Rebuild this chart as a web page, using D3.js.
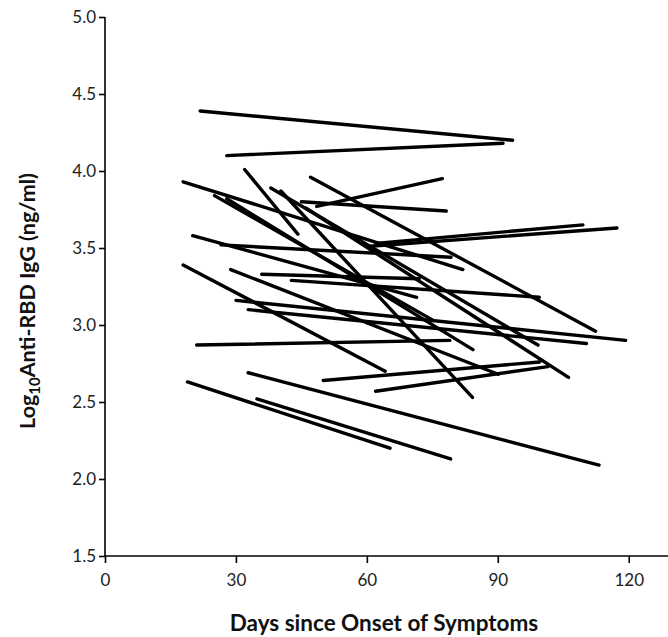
<!DOCTYPE html>
<html><head><meta charset="utf-8">
<script src="https://cdn.jsdelivr.net/npm/d3@7"></script>
<style>body{margin:0;background:#fff}svg{display:block}</style>
</head><body>
<script>
// Each segment: patient start (day, log10 value) to end (day, log10 value)
const startDays = [21.8,27.9,17.9,32,47.1,48.5,45,62,60,50,62,18.9,34.8,32.8,17.9,21,26.6,25.1,27.9,40.3,38,42.7,30,28.8,32.8,35.9,20.1,46];
const startVals = [4.39,4.10,3.93,4.01,3.96,3.77,3.80,3.53,3.51,2.64,2.57,2.63,2.52,2.69,3.39,2.87,3.52,3.84,3.82,3.87,3.89,3.29,3.16,3.36,3.10,3.33,3.58,3.76];
const endDays   = [93.4,91.2,82,44.2,112.4,77.3,78.2,109.5,117.3,99.6,101.5,65.3,79.2,113.2,64.2,79,79.3,75.2,84.3,84.2,99.2,99.5,119.3,90.1,110.3,72,71.4,106.2];
const endVals   = [4.20,4.18,3.36,3.59,2.96,3.95,3.74,3.65,3.63,2.76,2.73,2.20,2.13,2.09,2.70,2.90,3.44,3.03,2.84,2.53,2.87,3.18,2.90,2.68,2.88,3.30,3.18,2.66];
const xTicks = [0,30,60,90,120];
const yTicks = [1.5,2.0,2.5,3.0,3.5,4.0,4.5,5.0];

const W = 668, H = 637;
const svg = d3.select("body").append("svg").attr("width", W).attr("height", H);
const x = d3.scaleLinear().domain([0,129]).range([105,668]);
const y = d3.scaleLinear().domain([1.5,5.0]).range([556,17]);
const font = "Lato, 'Open Sans', 'DejaVu Sans', sans-serif";

const segs = startDays.map((d,i)=>({x1:d,y1:startVals[i],x2:endDays[i],y2:endVals[i]}));
svg.append("g").selectAll("line").data(segs).join("line")
  .attr("x1",d=>x(d.x1)).attr("y1",d=>y(d.y1))
  .attr("x2",d=>x(d.x2)).attr("y2",d=>y(d.y2))
  .attr("stroke","#000").attr("stroke-width",3.4).attr("stroke-linecap","round");

const xAxis = svg.append("g").attr("transform","translate(0,556)")
  .call(d3.axisBottom(x).tickValues(xTicks).tickSize(7).tickPadding(11).tickFormat(d3.format("d")));
const yAxis = svg.append("g").attr("transform","translate(105,0)")
  .call(d3.axisLeft(y).tickValues(yTicks).tickSize(6).tickPadding(3).tickFormat(d3.format(".1f")));
[xAxis,yAxis].forEach(g=>{
  g.select(".domain").attr("stroke","#000").attr("stroke-width",1.6);
  g.selectAll(".tick line").attr("stroke","#000").attr("stroke-width",1.6);
  g.selectAll(".tick text").attr("fill","#222").style("font-family",font).style("font-size","17px");
});
xAxis.select(".domain").attr("d","M105,0H668");
yAxis.select(".domain").attr("d","M0,17V556");

svg.append("text").attr("x",384).attr("y",631).attr("text-anchor","middle")
  .style("font-family",font).style("font-size","22.5px").style("font-weight","700").attr("fill","#111")
  .text("Days since Onset of Symptoms");

const yl = svg.append("text").attr("transform","translate(35,301) rotate(-90)").attr("text-anchor","middle")
  .style("font-family",font).style("font-size","21.5px").style("font-weight","700").attr("fill","#111");
yl.append("tspan").text("Log");
yl.append("tspan").attr("dy",5).style("font-size","15px").text("10");
yl.append("tspan").attr("dy",-5).text("Anti-RBD IgG (ng/ml)");
</script>
</body></html>
